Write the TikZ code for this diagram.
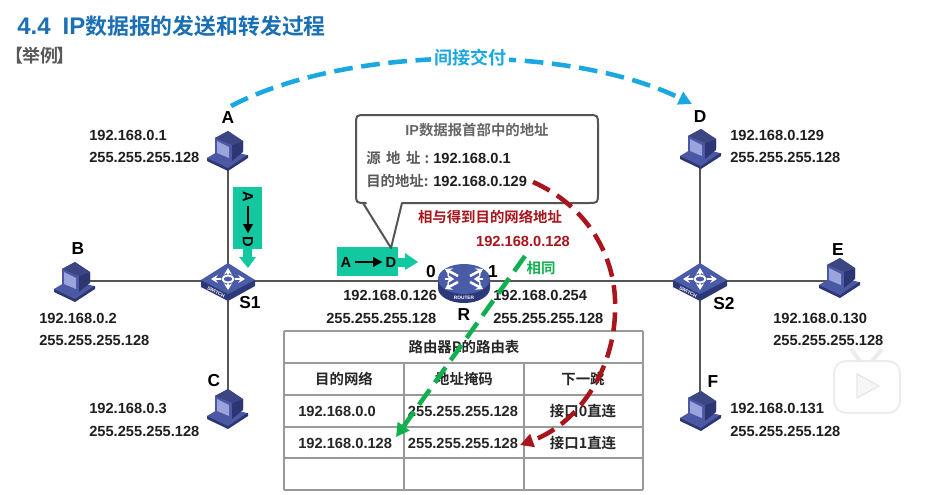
\documentclass[tikz,border=0pt]{standalone}
\usepackage{fontspec}
\setmainfont{Liberation Sans}
\newfontfamily\cjk{Noto Sans CJK SC}[BoldFont={Noto Sans CJK SC Bold}]
\usetikzlibrary{arrows.meta,calc}
\definecolor{pcdark}{HTML}{2B3672}
\definecolor{pcmid}{HTML}{4B58A3}
\definecolor{pclight}{HTML}{9AA3DC}
\definecolor{swblue}{HTML}{4A5BA8}
\definecolor{swdark}{HTML}{2C3878}
\definecolor{titleblue}{HTML}{1A6FB5}
\definecolor{skyblue}{HTML}{1BA7E0}
\definecolor{teal}{HTML}{12C8A0}
\definecolor{darkred}{HTML}{A8161C}
\definecolor{dashgreen}{HTML}{10B050}
\definecolor{wire}{HTML}{555555}
\definecolor{tablegray}{HTML}{999999}
\tikzset{
 x=0.75pt,y=-0.75pt,
 ip/.style={font=\fontsize{11}{11}\selectfont\bfseries,inner sep=0pt,anchor=west,text=black!88},
 letter/.style={font=\fontsize{13}{13}\selectfont\bfseries,inner sep=0pt,text=black},
 pktext/.style={inner sep=0pt,font=\fontsize{11}{11}\selectfont\bfseries},
 pkarrow/.style={line width=1.8pt,-{Triangle[length=7pt,width=7pt]}},
 cell/.style={font=\fontsize{11}{11}\selectfont\bfseries,inner sep=0pt,text=black!85},
 cellc/.style={font=\cjk\fontsize{10.8}{10.8}\selectfont\bfseries,inner sep=0pt,text=black!85},
 wireline/.style={draw=wire,line width=1.9pt},
 gridline/.style={draw=tablegray,line width=0.9pt},
 bluedash/.style={draw=skyblue,line width=3.4pt,dash pattern=on 14pt off 6.5pt},
 reddash/.style={draw=darkred,line width=3.4pt,dash pattern=on 14pt off 6.5pt},
 greendash/.style={draw=dashgreen,line width=3.4pt,dash pattern=on 14pt off 6.5pt},
 wa/.style={white,line width=1.6pt,{Stealth[length=5pt,width=6pt]}-{Stealth[length=5pt,width=6pt]}},
 ra/.style={white,line width=1.9pt,-{Stealth[length=5pt,width=6.5pt]}},
 tiny label/.style={inner sep=0pt,text=white,font=\fontsize{3.6}{3.6}\selectfont\bfseries},
 pcpic/.pic={
  % keyboard base
  \fill[pcdark] (-21,6) -- (-21,9) -- (0,19) -- (20,6) -- (20,3) -- cycle;
  \fill[pcmid] (-21,6) -- (-6,-3) -- (19,3) -- (0,16) -- cycle;
  % monitor
  \fill[pcmid] (-13,-14) -- (0,-21) -- (15,-11) -- (15,-2) -- (4,8) -- (-13,2) -- cycle;
  \fill[pcdark] (4,-7) -- (15,-11) -- (15,0) -- (4,9) -- cycle;
  \fill[pcmid!80!black] (-13,-14) -- (0,-21) -- (15,-11) -- (4,-7) -- cycle;
  \fill[pclight] (-11,-11) -- (1,-5) -- (1,6) -- (-11,1) -- cycle;
 },
 swpic/.pic={
  \fill[swdark] (-27,-1) -- (-27,6) -- (0,20) -- (27,5) -- (27,-1) -- cycle;
  \fill[swblue] (-27,-1) -- (0,-18) -- (27,-1) -- (0,13) -- cycle;
  \draw[wa] (-17,-2) -- (17,-2);
  \draw[wa] (0,-13) -- (0,9);
  \fill[swblue] (0,-2) ellipse [x radius=7,y radius=4.5];
  \draw[white,line width=1.4pt] (0,-2) ellipse [x radius=5.5,y radius=3.5];
  \node[tiny label,rotate=-27] (swt) at (-12,11) {SWITCH};
 },
 routerpic/.pic={
  \fill[swdark] (-26,-3) -- (-26,6) arc[start angle=180,end angle=0,x radius=26,y radius=15] -- (26,-3) -- cycle;
  \fill[swblue] (0,-3) ellipse [x radius=26,y radius=15];
  \foreach \sx/\sy in {-1/-1,1/-1,-1/1,1/1}{
   \draw[ra] ({\sx*6},{-3+\sy*3}) -- ({\sx*19},{-3+\sy*10});
   \draw[ra] ({\sx*19},-3) -- ({\sx*10},{-3+\sy*0});
  }
  \node[tiny label] (rot) at (0,16) {ROUTER};
 },
}
\begin{document}
\begin{tikzpicture}
\useasboundingbox (0,0) rectangle (934,494);
\fill[white] (0,0) rectangle (934,494);

% title
\node[inner sep=0pt,anchor=west,text=titleblue,font=\fontsize{18}{18}\selectfont\bfseries] (title) at (17,26) {4.4\hspace{9pt}IP{\cjk\fontsize{16.4}{16.4}\selectfont 数据报的发送和转发过程}};
\node[inner sep=0pt,text=black!65,font=\cjk\fontsize{13.5}{13.5}\selectfont\bfseries] (ex) at (40,56) {【\hspace{-1.5pt}举例\hspace{-1.5pt}】};

% device anchors
\coordinate (A) at (228,152);
\coordinate (D) at (700,150);
\coordinate (B) at (75,281);
\coordinate (C) at (228,410);
\coordinate (E) at (840,281);
\coordinate (F) at (700,412);
\coordinate (S1) at (228,281);
\coordinate (S2) at (700,281);
\coordinate (R) at (466,281);

% wires
\draw[wireline] (A) -- (S1);
\draw[wireline] (C) -- (S1);
\draw[wireline] (B) -- (S1);
\draw[wireline] (S1) -- (R);
\draw[wireline] (R) -- (S2);
\draw[wireline] (S2) -- (E);
\draw[wireline] (D) -- (S2);
\draw[wireline] (F) -- (S2);

\pic at (A) {pcpic};
\pic at (C) {pcpic};
\pic at ($(D)+(1,0)$) {pcpic};
\pic at ($(F)+(1,0)$) {pcpic};
\pic at ($(B)+(0,2)$) {pcpic};
\pic at ($(E)+(0,-2)$) {pcpic};
\pic at (S1) {swpic};
\pic at (S2) {swpic};
\pic at ($(R)+(-2,1)$) {routerpic};

% letters
\node[letter] (lA) at (228,118) {A};
\node[letter] (lD) at (700,117) {D};
\node[letter] (lB) at (78,249) {B};
\node[letter] (lC) at (214,381) {C};
\node[letter] (lE) at (838,250) {E};
\node[letter] (lF) at (713,382) {F};
\node[letter] (lS1) at (250,303) {S1};
\node[letter] (lS2) at (724,304) {S2};
\node[letter] (lR) at (464,315) {R};
\node[letter] (l0) at (431,272) {0};
\node[letter] (l1) at (493,272) {1};

% addresses
\node[ip] (a1) at (89,135) {192.168.0.1};
\node[ip] (a2) at (89,157) {255.255.255.128};
\node[ip] (d1) at (730,135) {192.168.0.129};
\node[ip] (d2) at (730,157) {255.255.255.128};
\node[ip] (b1) at (39,318) {192.168.0.2};
\node[ip] (b2) at (39,340) {255.255.255.128};
\node[ip] (c1) at (89,408) {192.168.0.3};
\node[ip] (c2) at (89,431) {255.255.255.128};
\node[ip] (e1) at (773,318) {192.168.0.130};
\node[ip] (e2) at (773,340) {255.255.255.128};
\node[ip] (f1) at (730,408) {192.168.0.131};
\node[ip] (f2) at (730,431) {255.255.255.128};
\node[ip] (r1) at (343,295) {192.168.0.126};
\node[ip] (r2) at (326,318) {255.255.255.128};
\node[ip] (r3) at (493,295) {192.168.0.254};
\node[ip] (r4) at (493,318) {255.255.255.128};

% teal packets
\fill[teal] (233,187) rectangle (262,249);
\fill[teal] (243,249) -- (243,257) -- (239,257) -- (248,268) -- (256,257) -- (252,257) -- (252,249) -- cycle;
\node[rotate=-90,pktext] (va) at (248,197) {A};
\node[rotate=-90,pktext] (vd) at (248,242) {D};
\draw[pkarrow] ($(va.east)+(0,3)$) -- ($(vd.west)+(0,-3)$);

\fill[teal] (337,247) rectangle (398,276);
\fill[teal] (398,258) -- (405,258) -- (405,253) -- (418,262) -- (405,270) -- (405,267) -- (398,267) -- cycle;
\node[pktext] (ha) at (346,262) {A};
\node[pktext] (hd) at (391,262) {D};
\draw[pkarrow] ($(ha.east)+(3,0)$) -- ($(hd.west)+(-3,0)$);

% callout
\draw[draw=wire,fill=white,line width=1.5pt,line join=round]
  (363,203) -- (366,203) .. controls (356,203) and (356,203) .. (356,193)
  -- (356,125) .. controls (356,115) and (356,115) .. (366,115)
  -- (588,115) .. controls (598,115) and (598,115) .. (598,125)
  -- (598,193) .. controls (598,203) and (598,203) .. (588,203)
  -- (402,203) -- (391,248) -- cycle;
\node[inner sep=0pt,text=black!60,font=\fontsize{10.8}{10.8}\selectfont\bfseries] (h) at (477,130) {IP{\cjk 数据报首部中的地址}};
\node[inner sep=0pt,anchor=west,text=black!65,font=\cjk\fontsize{10.8}{10.8}\selectfont\bfseries] (s) at (366,158) {源\hspace{0.38em}地\hspace{0.38em}址\hspace{0.3em}:};
\node[inner sep=0pt,anchor=west,text=black!65,font=\cjk\fontsize{10.8}{10.8}\selectfont\bfseries] (m) at (366,181) {目的地址:};
\node[ip] (sv) at (433,158) {192.168.0.1};
\node[ip] (mv) at (433,181) {192.168.0.129};

% red text
\node[inner sep=0pt,text=darkred,font=\cjk\fontsize{10.8}{10.8}\selectfont\bfseries] (andt) at (490,217) {相与得到目的网络地址};
\node[inner sep=0pt,text=darkred,font=\fontsize{11}{11}\selectfont\bfseries] (net) at (523,241) {192.168.0.128};
\node[inner sep=0pt,text=dashgreen,font=\cjk\fontsize{10.8}{10.8}\selectfont\bfseries] (same) at (541,268) {相同};

% table
\node[cellc] (tt) at (464,347) {路由器R的路由表};
\foreach \y in {331,363,395,427,458,490}{\draw[gridline] (284,\y) -- (643,\y);}
\draw[gridline] (284,331) -- (284,490);
\draw[gridline] (643,331) -- (643,490);
\draw[gridline] (404,363) -- (404,490);
\draw[gridline] (524,363) -- (524,490);
\node[cellc] (c11) at (344,379) {目的网络};
\node[cellc] (c12) at (464,379) {地址掩码};
\node[cellc] (c13) at (583,379) {下一跳};
\node[cell,anchor=west] (c21) at (298,411) {192.168.0.0};
\node[cell] (c22) at (463,411) {255.255.255.128};
\node[cellc] (c23) at (583,411) {接口0直连};
\node[cell,anchor=west] (c31) at (298,443) {192.168.0.128};
\node[cell] (c32) at (463,443) {255.255.255.128};
\node[cellc] (c33) at (583,443) {接口1直连};

% dashed arrows
\coordinate (gs) at (525,256);
\coordinate (ge) at (396,437);
\draw[greendash,-{Triangle[length=10pt,width=10.5pt]}] (gs) -- (ge);
\coordinate (rs) at (533,182);
\coordinate (re) at (520,445);
\draw[reddash,-{Triangle[length=10pt,width=10pt]}] (rs) .. controls (585,205) and (618,255) .. (615,313) .. controls (613,375) and (575,425) .. (re);
\coordinate (bs) at (231,106);
\coordinate (be) at (692,104);
\draw[bluedash,-{Triangle[length=10pt,width=10pt]}] (bs) .. controls (350,44) and (570,44) .. (be);
\node[inner sep=2pt,fill=white,text=skyblue,font=\cjk\fontsize{13.5}{13.5}\selectfont\bfseries] (ind) at (470,58) {间接交付};

% watermark
\begin{scope}[opacity=0.9]
\draw[black!8,line width=1.5pt,fill=white,rounded corners=9pt] (834,361) rectangle (900,413);
\draw[black!8,line width=3pt,line cap=round] (852,350) -- (859,360);
\draw[black!8,line width=3pt,line cap=round] (881,350) -- (873,360);
\draw[black!10,fill=black!3,line width=1pt,line join=round] (857,374) -- (879,386) -- (857,398) -- cycle;
\end{scope}
\end{tikzpicture}
\end{document}
